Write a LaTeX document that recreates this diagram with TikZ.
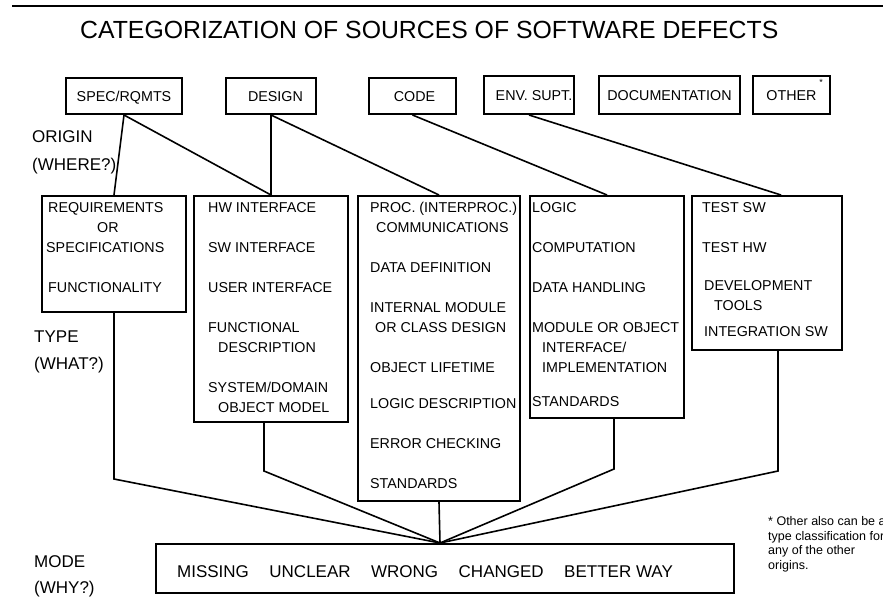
\documentclass[tikz,border=0pt]{standalone}
\usepackage{fontspec}
\setmainfont{Liberation Sans}
\begin{document}
\begin{tikzpicture}[x=1pt, y=-1pt,
    box/.style={draw, line width=2pt, inner sep=0pt, minimum height=36pt,
        text height=10.3pt, text depth=0pt, font=\fontsize{14.3}{16}\selectfont},
    item/.style={anchor=base west, inner sep=0pt, font=\fontsize{14.3}{16}\selectfont},
    lbl/.style={anchor=base west, inner sep=0pt, font=\fontsize{17}{20}\selectfont},
    note/.style={anchor=base west, inner sep=0pt, font=\fontsize{12.5}{14}\selectfont},
    link/.style={line width=1.6pt}]
    \useasboundingbox (0,0) rectangle (883,598);
    \draw[line width=2pt] (12,6) -- (883,6);
    \node[anchor=base west, inner sep=0pt, font=\fontsize{24.8}{28}\selectfont] (title) at (80,38)
        {CATEGORIZATION OF SOURCES OF SOFTWARE DEFECTS};

    % Side labels
    \node[lbl] (origin) at (32,142) {ORIGIN};  \node[lbl] (where) at (32,170) {(WHERE?)};
    \node[lbl] (type) at (34,342) {TYPE};      \node[lbl] (what) at (34,369) {(WHAT?)};
    \node[lbl] (modelbl) at (34,567) {MODE};   \node[lbl] (why) at (34,593) {(WHY?)};

    % Origins
    \node[box, minimum width=116pt] (spec) at (124,96) {SPEC/RQMTS};
    \node[box, minimum width=90pt] (design) at (271,96) {\hspace*{9pt}DESIGN};
    \node[box, minimum width=87pt] (code) at (412.5,96) {\hspace*{4pt}CODE};
    \node[box, minimum width=90pt, minimum height=38pt] (env) at (529,95) {\hspace*{10pt}ENV. SUPT.};
    \node[box, minimum width=141pt, minimum height=38pt] (doc) at (669.5,95) {DOCUMENTATION};
    \node[box, minimum width=77pt, minimum height=38pt] (other) at (791.5,95) {OTHER};
    \node[inner sep=0pt, font=\fontsize{9}{9}\selectfont] (star) at (821,82) {*};

    % Types
    \node[box, minimum width=144pt, minimum height=116pt] (req) at (114,254) {};
    \node[box, minimum width=154pt, minimum height=226pt] (hw) at (271,309) {};
    \node[box, minimum width=162pt, minimum height=305pt] (proc) at (439,348.5) {};
    \node[box, minimum width=154pt, minimum height=222pt] (logic) at (607,307) {};
    \node[box, minimum width=150pt, minimum height=154pt] (test) at (767,273) {};

    \foreach \x/\y/\t in {48/212/{REQUIREMENTS}, 97/232/{OR}, 46/252/{SPECIFICATIONS},
        48/292/{FUNCTIONALITY}}
        \node[item] (req-\y) at (\x,\y) {\t};
    \foreach \x/\y/\t in {208/212/{HW INTERFACE}, 208/252/{SW INTERFACE}, 208/292/{USER INTERFACE},
        208/332/{FUNCTIONAL}, 218/352/{DESCRIPTION}, 208/392/{SYSTEM/DOMAIN}, 218/412/{OBJECT MODEL}}
        \node[item] (hw-\y) at (\x,\y) {\t};
    \foreach \x/\y/\t in {370/212/{PROC. (INTERPROC.)}, 376/232/{COMMUNICATIONS},
        370/272/{DATA DEFINITION}, 370/312/{INTERNAL MODULE}, 375/332/{OR CLASS DESIGN},
        370/372/{OBJECT LIFETIME}, 370/408/{LOGIC DESCRIPTION}, 370/448/{ERROR CHECKING},
        370/488/{STANDARDS}}
        \node[item] (proc-\y) at (\x,\y) {\t};
    \foreach \x/\y/\t in {532/212/{LOGIC}, 532/252/{COMPUTATION}, 532/292/{DATA HANDLING},
        532/332/{MODULE OR OBJECT}, 542/352/{INTERFACE/}, 542/372/{IMPLEMENTATION},
        532/406/{STANDARDS}}
        \node[item] (logic-\y) at (\x,\y) {\t};
    \foreach \x/\y/\t in {702/212/{TEST SW}, 702/252/{TEST HW}, 704/290/{DEVELOPMENT},
        714/310/{TOOLS}, 704/336/{INTEGRATION SW}}
        \node[item] (test-\y) at (\x,\y) {\t};

    % Mode
    \node[box, minimum width=578pt, minimum height=49pt, text height=18.5pt,
        font=\fontsize{17}{20}\selectfont] (mode) at (445,568.5)
        {MISSING\hspace{20.5pt}UNCLEAR\hspace{20.5pt}WRONG\hspace{20.5pt}CHANGED\hspace{20.5pt}BETTER WAY\hspace*{40pt}};
    \coordinate (hub) at ([xshift=-5pt]mode.north);

    % Origin -> type
    \draw[link] (spec.south) -- (req.north);
    \draw[link] (spec.south) -- (hw.north);
    \draw[link] (design.south) -- (hw.north);
    \draw[link] (design.south) -- (proc.north);
    \draw[link] (code.south) -- (logic.north);
    \draw[link] (env.south) -- ([xshift=14pt]test.north);

    % Type -> mode
    \draw[link] (req.south) -- ++(0,166) -- (hub);
    \draw[link] ([xshift=-7pt]hw.south) -- ++(0,48) -- (hub);
    \draw[link] (proc.south) -- (hub);
    \draw[link] ([xshift=7pt]logic.south) -- ++(0,50) -- (hub);
    \draw[link] ([xshift=11pt]test.south) -- ++(0,120) -- (hub);

    % Footnote
    \foreach \y/\t in {525/{* Other also can be a}, 540/{type classification for},
        554/{any of the other}, 569/{origins.}}
        \node[note] (note-\y) at (768,\y) {\t};
\end{tikzpicture}
\end{document}
